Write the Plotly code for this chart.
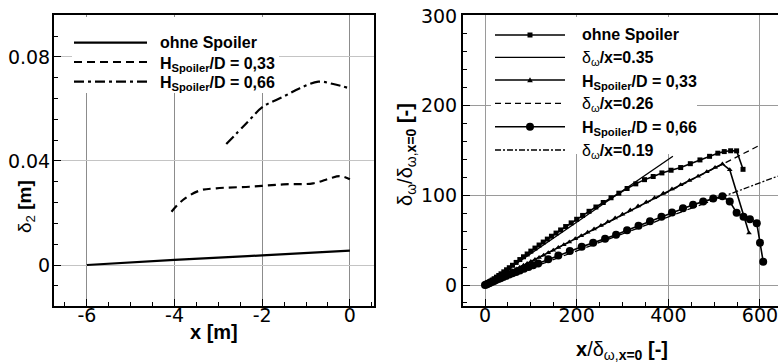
import plotly.graph_objects as go

W, H = 778, 363
FONT = "Liberation Sans, Arial, Helvetica, sans-serif"
TICKFONT = "DejaVu Sans, Liberation Sans, sans-serif"

# ---------------- Left panel data (delta_2 vs x) ----------------
ohne_x = [-6.0, -4.0, -2.0, 0.0]
ohne_y = [0.0, 0.002, 0.0037, 0.0055]

h033_x = [-4.07, -3.81, -3.43, -3.05, -2.29, -1.52, -0.84, -0.46, -0.23, 0.0]
h033_y = [0.0205, 0.025, 0.0286, 0.0295, 0.0301, 0.031, 0.0314, 0.0333, 0.0342, 0.033]

h066_x = [-2.82, -2.36, -1.98, -1.52, -1.14, -0.72, -0.38, -0.02]
h066_y = [0.0465, 0.0545, 0.0609, 0.0647, 0.068, 0.0705, 0.0696, 0.068]

left_xticks = [-6, -4, -2, 0]
left_xticktext = ["-6", "-4", "-2", "0"]

# ---------------- Right panel data ----------------
sq_x = [0, 4, 8, 12, 16, 20, 25, 30, 35, 41, 47, 53, 60, 68, 76, 84, 92, 100, 109, 118,
        127, 136, 145, 155, 165, 176, 188, 200, 213, 227, 242, 258, 275, 292, 310, 329,
        348, 367, 386, 406, 427, 448, 469, 490, 508, 522, 536, 549, 563]
sq_y = [0, 1.3, 2.7, 4.1, 5.5, 7.0, 8.8, 10.6, 12.5, 14.7, 17.0, 19.3, 22.0, 25.2, 28.4,
        31.5, 34.6, 37.8, 41.2, 44.6, 47.9, 51.2, 54.4, 57.9, 61.4, 65.2, 69.3, 73.3, 77.6,
        82.2, 87.0, 92.0, 97.3, 102.4, 107.6, 112.8, 117.5, 121.0, 125.0, 128.0, 131.0,
        135.3, 139.5, 143.5, 147.0, 148.8, 149.7, 149.6, 129.0]

tri_x = [0, 4, 8, 12, 16, 20, 25, 30, 35, 41, 47, 53, 60, 68, 76, 84, 92, 100, 109, 118,
         128, 138, 149, 160, 172, 184, 197, 210, 224, 238, 253, 268, 284, 300, 317, 334,
         352, 370, 389, 408, 427, 446, 465, 484, 502, 518, 534, 576]
tri_y = [0, 1.1, 2.2, 3.3, 4.3, 5.4, 6.7, 8.0, 9.3, 10.9, 12.4, 14.0, 15.8, 17.9, 19.9,
         22.0, 24.0, 26.1, 28.4, 30.7, 33.3, 35.9, 38.8, 41.7, 44.9, 48.0, 51.5, 55.0, 58.8,
         62.5, 66.5, 70.5, 74.8, 79.0, 83.6, 88.0, 92.7, 97.4, 102.3, 107.1, 111.9, 116.6,
         121.4, 126.3, 131.0, 135.0, 128.5, 58.0]

cir_x = [0, 3, 6, 9, 12, 16, 20, 24, 29, 34, 40, 46, 53, 60, 68, 76, 85, 95, 105, 116,
         138, 160, 185, 211, 236, 262, 286, 310, 335, 360, 385, 408, 432, 454, 476, 498,
         518, 534, 549, 564, 578, 593, 600, 607]
cir_y = [0, 0.7, 1.4, 2.1, 2.8, 3.7, 4.6, 5.5, 6.6, 7.6, 8.9, 10.2, 11.6, 13.0, 14.6,
         16.2, 18.0, 20.0, 22.0, 24.0, 28.6, 33.0, 38.0, 42.7, 47.0, 51.5, 56.0, 61.0, 66.0,
         71.0, 76.0, 81.0, 85.5, 89.5, 93.0, 96.5, 99.0, 93.0, 80.6, 76.2, 73.2, 68.8, 47.2, 26.0]

fit035_x = [0, 410]
fit035_y = [0, 143.5]
fit026_x = [0, 595]
fit026_y = [0, 154.7]
fit019_x = [0, 660]
fit019_y = [0, 125.4]

# ---------------- geometry ----------------
L_X0, L_X1 = 54, 374
R_X0, R_X1 = 463, 778
Y_TOP, Y_BOT = 15, 306

def px(x):
    return x / W

def py(y):
    return 1 - y / H

fig = go.Figure()

# left panel traces
fig.add_trace(go.Scatter(x=ohne_x, y=ohne_y, mode="lines", line=dict(color="black", width=2.2, shape="spline"),
                         xaxis="x", yaxis="y", showlegend=False))
fig.add_trace(go.Scatter(x=h033_x, y=h033_y, mode="lines",
                         line=dict(color="black", width=2.2, dash="8px,5px", shape="spline"),
                         xaxis="x", yaxis="y", showlegend=False))
fig.add_trace(go.Scatter(x=h066_x, y=h066_y, mode="lines",
                         line=dict(color="black", width=2.2, dash="10px,4px,3px,4px", shape="spline"),
                         xaxis="x", yaxis="y", showlegend=False))

# right panel traces
fig.add_trace(go.Scatter(x=fit035_x, y=fit035_y, mode="lines", line=dict(color="black", width=1.3),
                         xaxis="x2", yaxis="y2", showlegend=False))
fig.add_trace(go.Scatter(x=fit026_x, y=fit026_y, mode="lines", line=dict(color="black", width=1.3, dash="6px,4px"),
                         xaxis="x2", yaxis="y2", showlegend=False))
fig.add_trace(go.Scatter(x=fit019_x, y=fit019_y, mode="lines",
                         line=dict(color="black", width=1.3, dash="6px,2px,2px,2px"),
                         xaxis="x2", yaxis="y2", showlegend=False))
fig.add_trace(go.Scatter(x=sq_x, y=sq_y, mode="lines+markers", line=dict(color="black", width=1.6),
                         marker=dict(symbol="square", size=5, color="black"),
                         xaxis="x2", yaxis="y2", showlegend=False))
fig.add_trace(go.Scatter(x=tri_x, y=tri_y, mode="lines+markers", line=dict(color="black", width=1.6),
                         marker=dict(symbol="triangle-up", size=5, color="black"),
                         xaxis="x2", yaxis="y2", showlegend=False))
fig.add_trace(go.Scatter(x=cir_x, y=cir_y, mode="lines+markers", line=dict(color="black", width=1.6),
                         marker=dict(symbol="circle", size=8, color="black"),
                         xaxis="x2", yaxis="y2", showlegend=False))

axis_common = dict(showline=True, linecolor="black", linewidth=2, ticks="inside", ticklen=7,
                   tickwidth=1, tickcolor="black", zeroline=False, automargin=False,
                   ticklabeloverflow="allow",
                   tickfont=dict(family=TICKFONT, size=19, color="black"))

ydom = [py(Y_BOT), py(Y_TOP)]
fig.update_layout(
    width=W, height=H, margin=dict(l=0, r=0, t=0, b=0, autoexpand=False),
    paper_bgcolor="white", plot_bgcolor="white", showlegend=False,
    xaxis=dict(domain=[px(L_X0), px(L_X1)], range=[-6.75, 0.55],
               tickmode="array", tickvals=left_xticks, ticktext=left_xticktext,
               mirror=True, showgrid=True, gridcolor="#8c8c8c", gridwidth=1, ticklabelstandoff=-9,
               minor=dict(dtick=0.5, tick0=0, ticks="inside", ticklen=4, tickcolor="black", showgrid=False),
               anchor="y", **axis_common),
    yaxis=dict(domain=ydom, range=[-0.01577, 0.09615], dtick=0.04, tick0=0,
               mirror=True, showgrid=True, gridcolor="#c4c4c4", gridwidth=1, ticklabelstandoff=-2,
               minor=dict(dtick=0.008, ticks="inside", ticklen=4, tickcolor="black", showgrid=False),
               anchor="x", **axis_common),
    xaxis2=dict(domain=[px(R_X0), 1.0], range=[-48, 639.3], dtick=200, tick0=0,
                mirror=True, showgrid=True, gridcolor="#9a9a9a", gridwidth=1, ticklabelstandoff=-9,
                minor=dict(dtick=50, ticks="inside", ticklen=4, tickcolor="black", showgrid=False),
                anchor="y2", **axis_common),
    yaxis2=dict(domain=ydom, range=[-23.4, 301.1], dtick=100, tick0=0,
                mirror=False, showgrid=True, gridcolor="#9a9a9a", gridwidth=1, ticklabelstandoff=0,
                minor=dict(dtick=20, ticks="inside", ticklen=4, tickcolor="black", showgrid=False),
                anchor="x2", **axis_common),
)

shapes = []
annotations = []

# legend background boxes (cover grid lines)
def lbox(x0, y0, x1, y1):
    shapes.append(dict(type="rect", xref="paper", yref="paper",
                       x0=px(x0), x1=px(x1), y0=py(y1), y1=py(y0),
                       fillcolor="white", line=dict(width=0), layer="above"))

lbox(72, 17, 279, 93)
lbox(491, 17, 697, 154)

def leg_line(x0, x1, y, dash="solid", width=2):
    shapes.append(dict(type="line", xref="paper", yref="paper", x0=px(x0), x1=px(x1),
                       y0=py(y), y1=py(y), line=dict(color="black", width=width, dash=dash), layer="above"))

def leg_text(x, y, text):
    annotations.append(dict(xref="paper", yref="paper", x=px(x), y=py(y), text=text, showarrow=False,
                            xanchor="left", yanchor="middle",
                            font=dict(family=FONT, size=16, color="black")))

# left legend
leg_line(74, 147, 42.7, "solid", 2.2)
leg_line(74, 147, 62, "8px,5px", 2.2)
leg_line(74, 147, 81.7, "10px,4px,3px,4px", 2.2)
leg_text(158, 42.7, "<b>ohne Spoiler</b>")
leg_text(158, 64, "<b>H<sub>Spoiler</sub>/D = 0,33</b>")
leg_text(158, 83.7, "<b>H<sub>Spoiler</sub>/D = 0,66</b>")

# right legend
rows = [35, 57.3, 80, 103.3, 126.7, 150]
leg_line(495, 565, rows[0], "solid", 1.6)
leg_line(495, 565, rows[1], "solid", 1.3)
leg_line(495, 565, rows[2], "solid", 1.6)
leg_line(495, 565, rows[3], "6px,4px", 1.3)
leg_line(495, 565, rows[4], "solid", 1.6)
leg_line(495, 565, rows[5], "6px,2px,2px,2px", 1.3)
cx = 530
shapes.append(dict(type="rect", xref="paper", yref="paper", x0=px(cx - 2.5), x1=px(cx + 2.5),
                   y0=py(rows[0] + 2.5), y1=py(rows[0] - 2.5), fillcolor="black", line=dict(width=0)))
shapes.append(dict(type="path", xref="paper", yref="paper",
                   path=f"M {px(cx-2.8)},{py(rows[2]+2.2)} L {px(cx+2.8)},{py(rows[2]+2.2)} L {px(cx)},{py(rows[2]-2.8)} Z",
                   fillcolor="black", line=dict(width=0)))
shapes.append(dict(type="circle", xref="paper", yref="paper", x0=px(cx - 4), x1=px(cx + 4),
                   y0=py(rows[4] + 4), y1=py(rows[4] - 4), fillcolor="black", line=dict(width=0)))
leg_text(580, rows[0], "<b>ohne Spoiler</b>")
leg_text(580, rows[1] + 1.5, "δ<sub>ω</sub><b>/x=0.35</b>")
leg_text(580, rows[2] + 2, "<b>H<sub>Spoiler</sub>/D = 0,33</b>")
leg_text(580, rows[3] + 1.5, "δ<sub>ω</sub><b>/x=0.26</b>")
leg_text(580, rows[4] + 2, "<b>H<sub>Spoiler</sub>/D = 0,66</b>")
leg_text(580, rows[5] + 1.5, "δ<sub>ω</sub><b>/x=0.19</b>")

# axis titles
annotations.append(dict(xref="paper", yref="paper", x=px(214), y=py(332), text="<b>x [m]</b>",
                        showarrow=False, xanchor="center", yanchor="middle",
                        font=dict(family=FONT, size=20, color="black")))
annotations.append(dict(xref="paper", yref="paper", x=px(26), y=py(206), text="δ<sub>2</sub> <b>[m]</b>",
                        showarrow=False, xanchor="center", yanchor="middle", textangle=-90,
                        font=dict(family=FONT, size=19, color="black")))
annotations.append(dict(xref="paper", yref="paper", x=px(406), y=py(155),
                        text="δ<sub>ω</sub>/δ<sub>ω,<b>x=0</b></sub> <b>[-]</b>",
                        showarrow=False, xanchor="center", yanchor="middle", textangle=-90,
                        font=dict(family=FONT, size=20, color="black")))
annotations.append(dict(xref="paper", yref="paper", x=px(622), y=py(350),
                        text="<b>x</b>/δ<sub>ω,<b>x=0</b></sub> <b>[-]</b>",
                        showarrow=False, xanchor="center", yanchor="middle",
                        font=dict(family=FONT, size=20, color="black")))

fig.update_layout(shapes=shapes, annotations=annotations)
fig.write_html("out.html")
